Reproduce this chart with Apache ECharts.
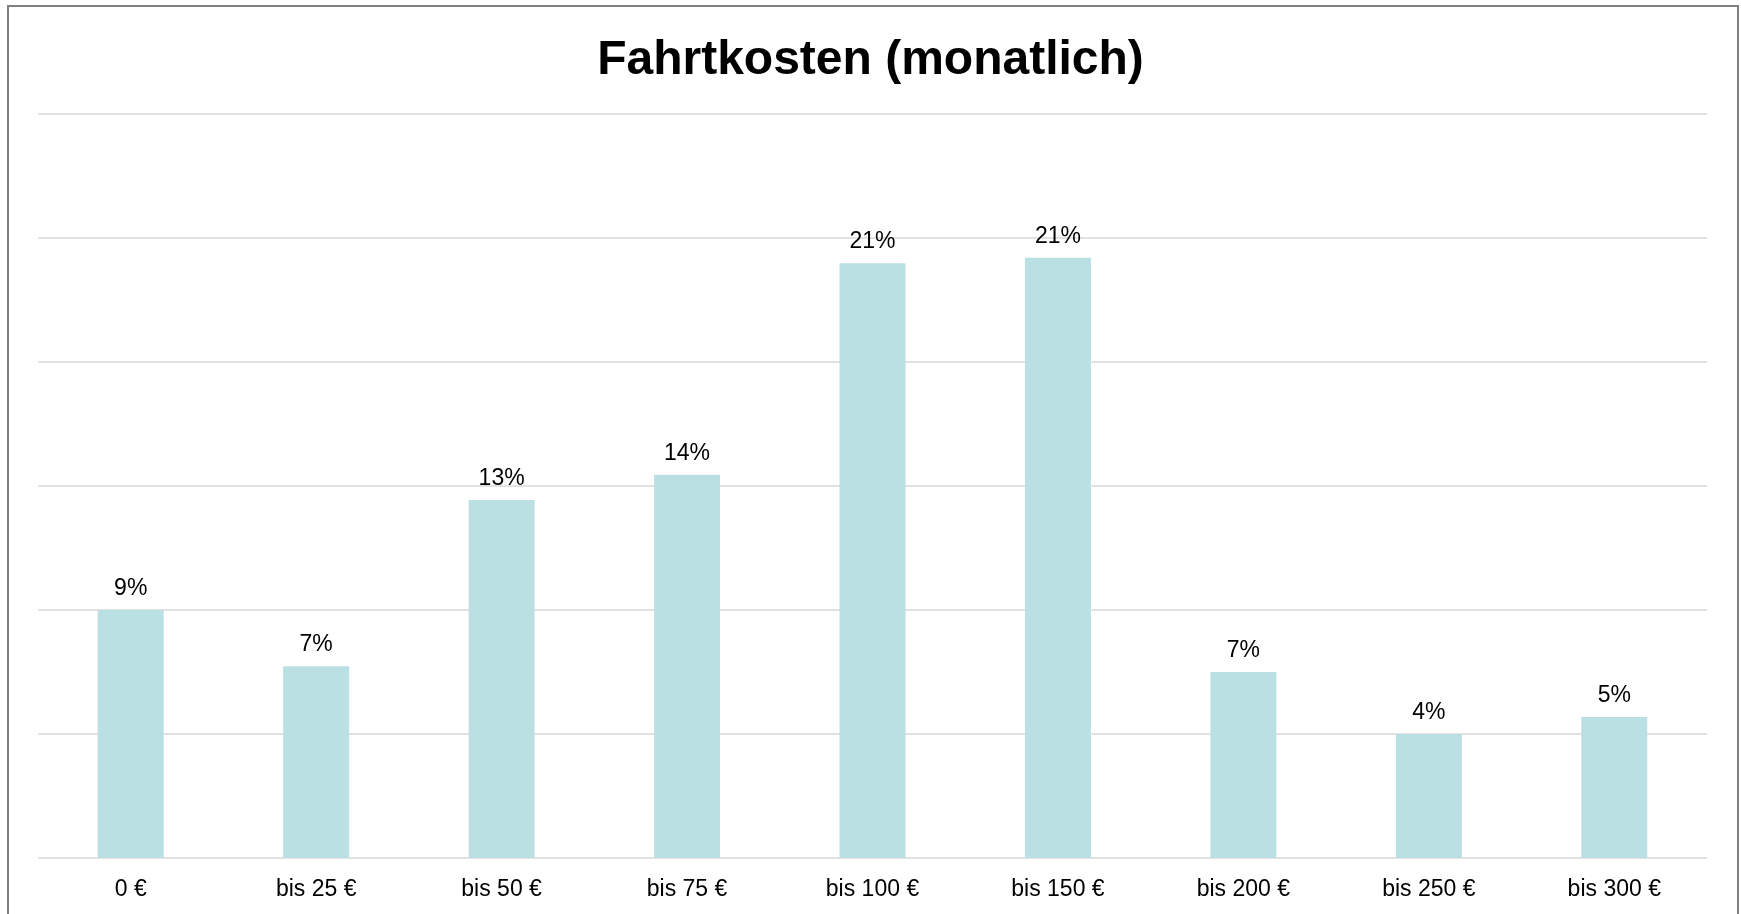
<!DOCTYPE html>
<html>
<head>
<meta charset="utf-8">
<title>Fahrtkosten (monatlich)</title>
<style>
    html, body { margin: 0; padding: 0; background: #fff; overflow: hidden; }
    .rahmen {
        position: absolute; left: 7px; top: 5px; width: 1728px; height: 1000px;
        border: 2px solid #808080; border-bottom: none;
    }
    #fkEchar { position: absolute; left: 0; top: 0; width: 1741px; height: 914px; }
</style>
</head>
<body>
<div class="rahmen"></div>
<div id="fkEchar"></div>
<script src="https://cdn.jsdelivr.net/npm/echarts@6/dist/echarts.min.js"></script>
<script>
    // Kategorien und Werte (Prozent)
    var kategorien = ['0 €', 'bis 25 €', 'bis 50 €', 'bis 75 €', 'bis 100 €', 'bis 150 €', 'bis 200 €', 'bis 250 €', 'bis 300 €'];
    var anteile = [8.8, 6.8, 12.7, 13.6, 21.1, 21.3, 6.6, 4.4, 5.0];
    // Achse ohne Beschriftung, nur Gitterlinien
    var achseMax = 26.4;
    var achseSchritt = 4.4;

    var schrift = 'Liberation Sans, Arial, sans-serif';

    var dom = document.getElementById('fkEchar');
    var myChart = echarts.init(dom);
    var option = {
        animation: false,
        title: {
            text: 'Fahrtkosten (monatlich)',
            left: 'center',
            top: 32,
            textStyle: {
                fontFamily: schrift,
                fontSize: 48,
                fontWeight: 'bold',
                color: '#000'
            }
        },
        grid: {
            left: 38,
            right: 34,
            top: 114,
            bottom: 56
        },
        xAxis: {
            type: 'category',
            data: kategorien,
            axisLine: { show: false },
            axisTick: { show: false },
            axisLabel: {
                margin: 20,
                fontFamily: schrift,
                fontSize: 23,
                color: '#000'
            }
        },
        yAxis: {
            type: 'value',
            min: 0,
            max: achseMax,
            interval: achseSchritt,
            axisLabel: { show: false },
            axisLine: { show: false },
            axisTick: { show: false },
            splitLine: {
                lineStyle: { color: '#d9d9d9', width: 1.5 }
            }
        },
        series: [
            {
                name: 'Fahrtkosten',
                type: 'bar',
                barWidth: 66,
                data: anteile,
                itemStyle: { color: '#bae0e3' },
                label: {
                    show: true,
                    position: 'top',
                    distance: 10,
                    fontFamily: schrift,
                    fontSize: 23,
                    color: '#000',
                    formatter: function (p) {
                        return Math.round(p.value) + '%';
                    }
                }
            }
        ]
    };
    myChart.setOption(option, true);
</script>
</body>
</html>
